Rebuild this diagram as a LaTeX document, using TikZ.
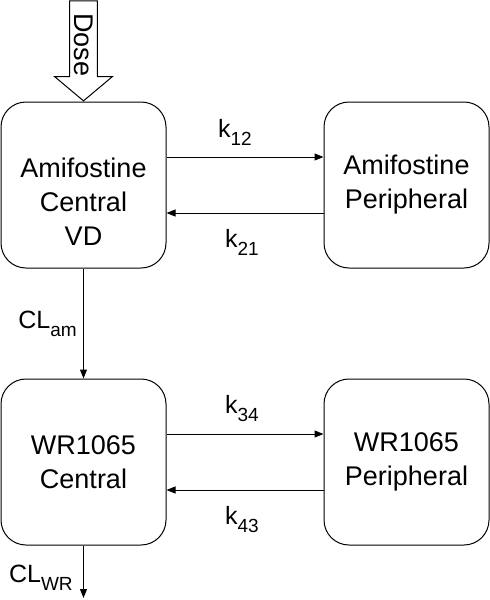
\documentclass[tikz,border=0pt]{standalone}
\usepackage{fontspec}
\setmainfont{Liberation Sans}
\usetikzlibrary{positioning,shapes.arrows,arrows.meta}
\newcommand{\lowsub}[1]{\raisebox{-0.32em}{\fontsize{19}{21}\selectfont #1}}

\tikzset{
  boxtext/.style={align=center,font=\fontsize{27}{34}\selectfont},
  compartment/.style={boxtext,draw,line width=1pt,rounded corners=25pt,minimum width=165pt,minimum height=166pt},
  flow/.style={line width=1pt,-{Triangle[length=9pt,width=7pt]}},
  rate/.style={font=\fontsize{25}{28}\selectfont}
}

\begin{document}
\begin{tikzpicture}[x=1pt,y=1pt]
\useasboundingbox (0,0) rectangle (490,-600);
\node [compartment] (amcen) at (83.5,-185) {};
\node [boxtext] (amcentext) at ([yshift=-17pt]amcen.center) {Amifostine\\Central\\VD};
\node [compartment,right=157pt of amcen] (amper) {Amifostine\\Peripheral};
\node [compartment,below=110pt of amcen] (wrcen) {WR1065\\Central};
\node [compartment,right=157pt of wrcen] (wrper) {WR1065\\Peripheral};

% dose input
\node [single arrow,draw,line width=1pt,rotate=-90,anchor=tip,minimum height=100pt,inner sep=4pt,
  single arrow head extend=15pt,single arrow tip angle=100,font=\fontsize{27}{30}\selectfont] (dose) at (amcen.north) {Dose};

\draw [flow] ([yshift=28pt]amcen.east) -- node [rate,above=8pt,xshift=-10pt] {k\lowsub{12}} ([yshift=28pt]amper.west);
\draw [flow] ([yshift=-28pt]amper.west) -- node [rate,below=13pt,xshift=-3pt] {k\lowsub{21}} ([yshift=-28pt]amcen.east);
\draw [flow] ([yshift=28pt]wrcen.east) -- node [rate,above=8pt,xshift=-3pt] {k\lowsub{34}} ([yshift=28pt]wrper.west);
\draw [flow] ([yshift=-28pt]wrper.west) -- node [rate,below=13pt,xshift=-3pt] {k\lowsub{43}} ([yshift=-28pt]wrcen.east);

\draw [flow] (amcen.south) -- node [rate,left=3pt] {CL\lowsub{am}} (wrcen.north);
\coordinate (wrout) at (83.5,-598);
\draw [flow] (wrcen.south) -- node [rate,left=7pt,yshift=-6pt] {CL\lowsub{WR}} (wrout);
\end{tikzpicture}
\end{document}
